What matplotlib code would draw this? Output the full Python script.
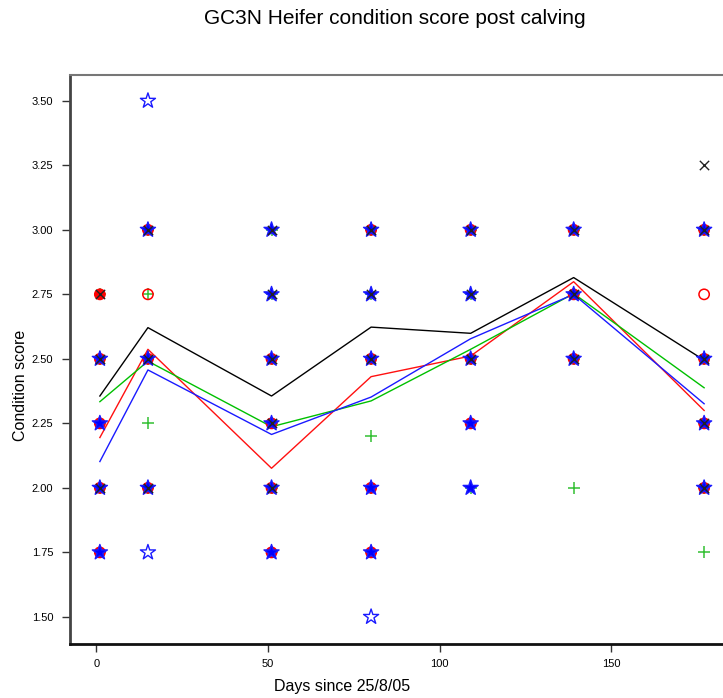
import matplotlib
matplotlib.use("Agg")
import matplotlib.pyplot as plt
from collections import Counter

# days since calving for each weighing
days = [1, 15, 51, 80, 109, 139, 177]

# individual condition scores per group, one list per day
black_scores = [[2.75, 2.50, 2.00], [3.00, 2.50, 2.00], [3.00, 2.75, 2.50, 2.25, 2.00],
                [3.00, 2.75, 2.50], [3.00, 2.75, 2.50], [3.00, 2.75, 2.50],
                [3.25, 3.00, 2.50, 2.25, 2.00]]
red_scores = [[2.75, 2.50, 2.25, 2.00, 1.75], [3.00, 2.75, 2.50, 2.00], [2.50, 2.25, 2.00, 1.75],
              [3.00, 2.50, 2.00, 1.75], [3.00, 2.50, 2.25], [3.00, 2.75, 2.50],
              [3.00, 2.75, 2.50, 2.25, 2.00]]
green_scores = [[2.75, 2.50, 2.25, 2.00, 1.75], [3.00, 2.75, 2.50, 2.25, 2.00],
                [3.00, 2.75, 2.50, 2.25, 2.00, 1.75], [3.00, 2.75, 2.50, 2.20, 2.00, 1.75],
                [3.00, 2.75, 2.50, 2.25, 2.00], [3.00, 2.75, 2.50, 2.00],
                [3.00, 2.50, 2.25, 2.00, 1.75]]
blue_scores = [[2.50, 2.25, 2.00, 1.75], [3.50, 3.00, 2.50, 2.00, 1.75],
               [3.00, 2.75, 2.50, 2.25, 2.00, 1.75], [3.00, 2.75, 2.50, 2.00, 1.75, 1.50],
               [3.00, 2.75, 2.50, 2.25, 2.00], [3.00, 2.75, 2.50], [3.00, 2.50, 2.25, 2.00]]

# group means
black_mean = [2.356, 2.621, 2.356, 2.623, 2.599, 2.815, 2.495]
red_mean = [2.195, 2.537, 2.076, 2.431, 2.511, 2.799, 2.300]
green_mean = [2.334, 2.491, 2.237, 2.337, 2.537, 2.753, 2.388]
blue_mean = [2.102, 2.457, 2.207, 2.352, 2.578, 2.750, 2.326]

yticks = [1.50, 1.75, 2.00, 2.25, 2.50, 2.75, 3.00, 3.25, 3.50]
xticks = [0, 50, 100, 150]

groups = [black_scores, red_scores, green_scores, blue_scores]


def flatten(scores):
    xs, ys = [], []
    for d, vals in zip(days, scores):
        for v in vals:
            xs.append(d)
            ys.append(v)
    return xs, ys


# how many groups sit on each point (overlapping points are drawn solid)
shared = Counter()
for g in groups:
    for p in set(zip(*flatten(g))):
        shared[p] += 1

plt.rcParams['font.family'] = ['Liberation Sans Narrow', 'Liberation Sans', 'DejaVu Sans']

fig = plt.figure(figsize=(7.23, 6.98), dpi=100)
ax = fig.add_axes([70 / 723, 54 / 698, 653 / 723, 569 / 698])

# means
ax.plot(days, black_mean, color='black', lw=1, zorder=2)
ax.plot(days, red_mean, color='#ff1010', lw=1, zorder=2)
ax.plot(days, green_mean, color='#00c000', lw=1, zorder=2)
ax.plot(days, blue_mean, color='#1a1aff', lw=1, zorder=2)

# individual scores
gx, gy = flatten(green_scores)
ax.scatter(gx, gy, marker='+', s=85, color='#33c033', linewidths=1.1, zorder=3)

rx, ry = flatten(red_scores)
rfill = ['#ff0000' if shared[p] >= 3 else 'none' for p in zip(rx, ry)]
ax.scatter(rx, ry, marker='o', s=55, facecolors=rfill, edgecolors='#ff0000',
           linewidths=1.1, zorder=4)

bx, by = flatten(blue_scores)
bfill = ['#0000ff' if shared[p] >= 2 else 'none' for p in zip(bx, by)]
ax.scatter(bx, by, marker='*', s=130, facecolors=bfill, edgecolors='#1a1aff',
           linewidths=1.0, zorder=5)

kx, ky = flatten(black_scores)
ax.scatter(kx, ky, marker='x', s=45, color='#222222', linewidths=1.0, zorder=6)

ax.set_xlim(-7.7, 182.5)
ax.set_ylim(1.395, 3.60)
ax.set_xticks(xticks)
ax.set_yticks(yticks)
ax.set_yticklabels(['%.2f' % v for v in yticks])
ax.tick_params(axis='both', direction='out', length=6, width=1, labelsize=8, color='#333333')
ax.tick_params(axis='y', pad=6)
ax.tick_params(axis='x', pad=5)

ax.spines['right'].set_visible(False)
ax.spines['top'].set_color('#777777')
ax.spines['top'].set_linewidth(1.5)
ax.spines['left'].set_color('#444444')
ax.spines['left'].set_linewidth(2)
ax.spines['bottom'].set_color('#111111')
ax.spines['bottom'].set_linewidth(2)

fig.text(395 / 723, 1 - 19 / 698, 'GC3N Heifer condition score post calving',
         ha='center', va='center', fontsize=15)
fig.text(342 / 723, 1 - 687 / 698, 'Days since 25/8/05', ha='center', va='center', fontsize=11.5)
fig.text(21 / 723, 1 - 385 / 698, 'Condition score', ha='center', va='center',
         rotation=90, fontsize=11.5)

fig.savefig('out.png', dpi=100)
